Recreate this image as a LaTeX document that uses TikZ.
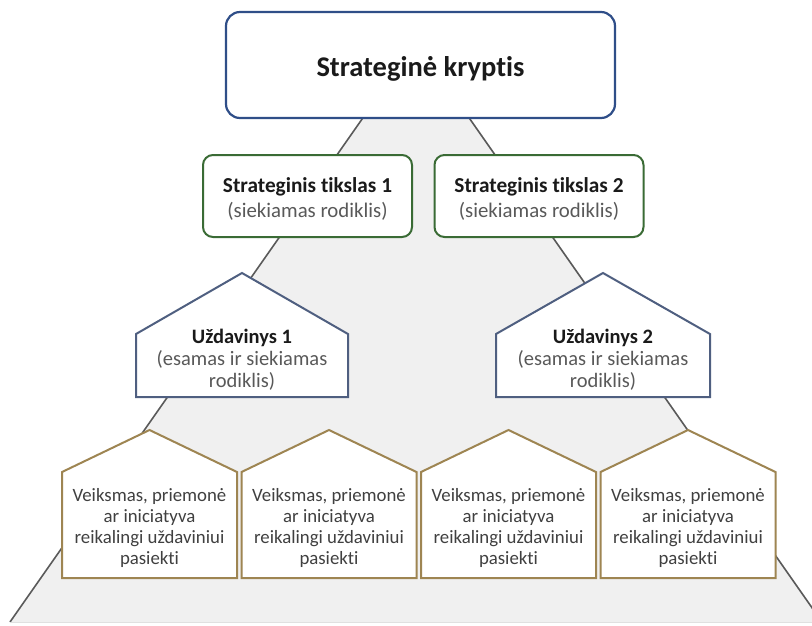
\documentclass[tikz,border=0pt]{standalone}
\usepackage{fontspec}
\setmainfont{Carlito}[RawFeature={-liga}]
\definecolor{bgfill}{HTML}{F0F0F0}
\definecolor{edgegrey}{HTML}{5A5A5A}
\definecolor{topblue}{HTML}{2F4E88}
\definecolor{goalgreen}{HTML}{3A6B35}
\definecolor{taskslate}{HTML}{4F5F80}
\definecolor{acttan}{HTML}{9E8552}
\definecolor{txtgrey}{HTML}{595959}
\definecolor{txtdark}{HTML}{404040}
\definecolor{txtblack}{HTML}{1A1A1A}
\begin{document}
\begin{tikzpicture}[x=1pt,y=-1pt,
  topbox/.style={draw=topblue, line width=2.2, fill=white, rounded corners=14pt,
    minimum width=389pt, minimum height=106pt, inner sep=0pt},
  toptext/.style={font=\fontsize{28.5}{32}\selectfont\bfseries, text=txtblack},
  goalbox/.style={draw=goalgreen, line width=2, fill=white, rounded corners=10pt,
    minimum width=209pt, minimum height=82pt, inner sep=0pt},
  goaltext/.style={align=center, font=\fontsize{20.8}{25}\selectfont, text=txtgrey},
  tasktext/.style={align=center, font=\fontsize{20.5}{22}\selectfont, text=txtgrey},
  acttext/.style={align=center, font=\fontsize{18.8}{21}\selectfont, text=txtdark},
  taskline/.style={draw=taskslate, line width=2, fill=white, line join=miter},
  actline/.style={draw=acttan, line width=2, fill=white, line join=miter}
]
\useasboundingbox (0,0) rectangle (812,625);
% background pyramid
\begin{scope}
  \clip (0,0) rectangle (812,625);
  \fill[bgfill] (416,42) -- (10,622) -- (822,622) -- cycle;
  \draw[edgegrey, line width=1.6] (10,622) -- (416,42) -- (822,622);
  \draw[black!12, line width=0.8] (10,622) -- (822,622);
\end{scope}
% top
\node[topbox] (dir) at (420.5,65) {};
\node[toptext] (dirt) at (420.5,69) {Strateginė kryptis};
% goals
\node[goalbox] (g1) at (307.5,196) {};
\node[goaltext] (g1t) at (307.5,199) {{\color{txtblack}\bfseries\fontsize{21.3}{25}\selectfont Strateginis tikslas 1}\\(siekiamas rodiklis)};
\node[goalbox] (g2) at (539,196) {};
\node[goaltext] (g2t) at (539,199) {{\color{txtblack}\bfseries\fontsize{21.3}{25}\selectfont Strateginis tikslas 2}\\(siekiamas rodiklis)};
% tasks
\draw[taskline] (136,334) -- (242,273) -- (348,334) -- (348,397) -- (136,397) -- cycle;
\node[tasktext] (t1) at (242,360) {{\color{txtblack}\bfseries Uždavinys 1}\\(esamas ir siekiamas\\rodiklis)};
\draw[taskline] (496,334) -- (603,273) -- (710,334) -- (710,397) -- (496,397) -- cycle;
\node[tasktext] (t2) at (603,360) {{\color{txtblack}\bfseries Uždavinys 2}\\(esamas ir siekiamas\\rodiklis)};
% actions
\foreach \xo [count=\i] in {62,241.5,421,600.5}{
  \draw[actline] (\xo,472) -- (\xo+87.5,430) -- (\xo+175,472) -- (\xo+175,578) -- (\xo,578) -- cycle;
  \node[acttext] (act\i) at (\xo+87.5,528) {Veiksmas, priemonė\\ar iniciatyva\\reikalingi uždaviniui\\pasiekti};
}
\end{tikzpicture}
\end{document}
